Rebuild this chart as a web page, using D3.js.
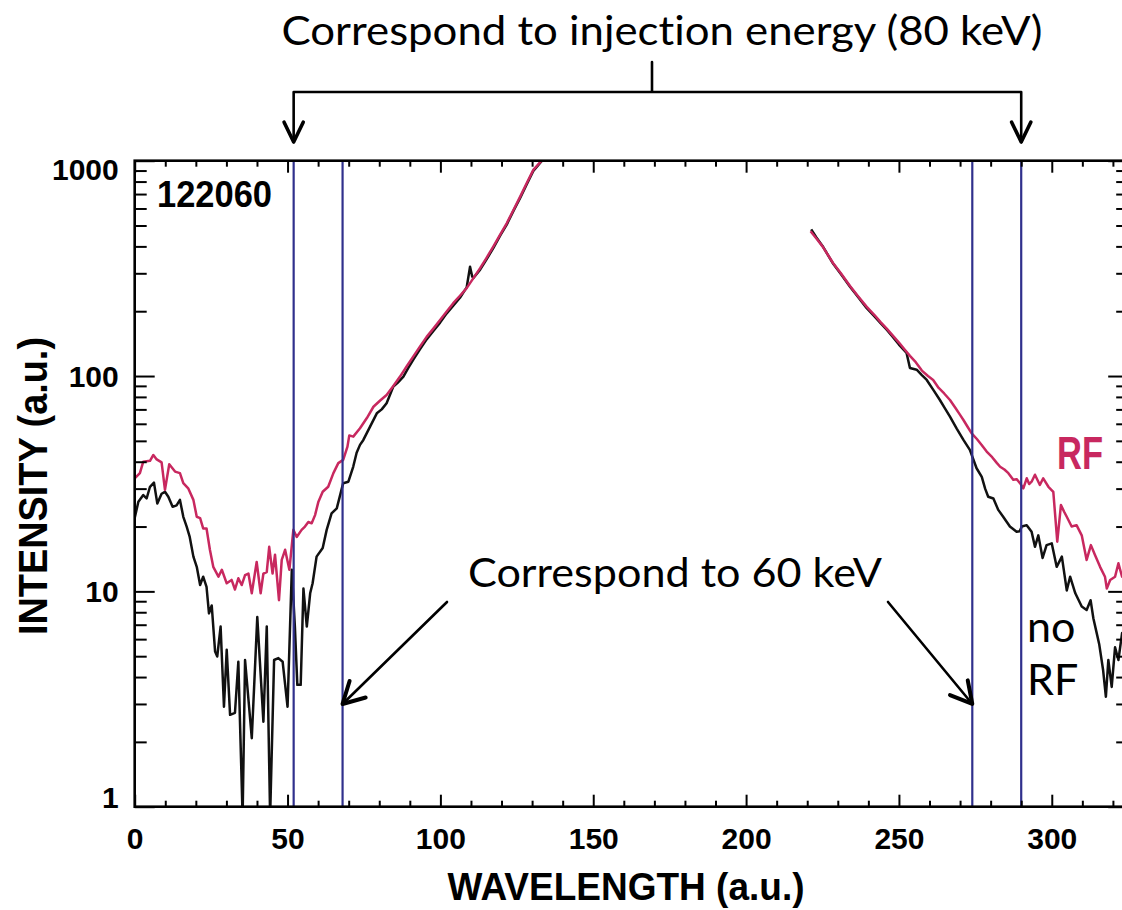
<!DOCTYPE html>
<html>
<head>
<meta charset="utf-8">
<script src="https://cdn.jsdelivr.net/npm/d3@7"></script>
<style>
  body { margin: 0; background: #fff; }
  text { font-family: "Liberation Sans", Arial, sans-serif; font-variant-ligatures: none; }
</style>
</head>
<body>
<svg id="chart"></svg>
<script>
// ---- data: [wavelength, intensity] ----
const rfLeft = [[0,33.5],[1.7,35.4],[2.8,40],[5,40.4],[6.1,43],[7.2,41],[8.8,39.7],[9.9,29.6],[11.3,38.9],[13.2,36],[14.8,35.4],[15.9,31.8],[17.5,30.1],[19.2,26.6],[20.3,22.2],[21.4,21.9],[22.4,19.6],[23.5,19.6],[24.6,15.6],[25.7,13],[27.4,11.7],[28.5,12.6],[30.1,10.9],[31.7,11.3],[32.8,10.2],[33.9,11.5],[35,10.7],[36.1,11.9],[37.2,12.1],[38.3,9.8],[39.9,13.7],[41.2,9.8],[42.1,12.1],[43.2,12.3],[44,16.1],[45.1,12.1],[45.9,14.8],[47.2,9.1],[48.1,14],[49.2,15.6],[50.6,12.6],[51.9,19.3],[53,17.9],[54.6,19.3],[55.7,20],[56.8,21],[57.9,20.7],[59,22.6],[60.1,26.1],[61.5,29],[63.3,30.6],[65,35.4],[66.6,39.4],[68.2,40.8],[69.6,47],[70.2,53],[71.5,52.3],[73.7,57.2],[76,64],[78.1,72],[80.3,77],[82.4,81.7],[84.6,90],[86.8,99.4],[89,111],[91.1,123],[93.3,137],[95.5,152],[97.7,166],[99.9,182],[102,199],[104.2,218],[106.4,236],[108.6,256],[110.8,285],[113,317],[115.2,356],[117.3,399],[119.5,452],[121.7,512],[123.9,590],[126.1,681],[128.3,790],[130.4,906],[133.1,1000],[134,1080]];
const noRfLeft = [[0,21.9],[1.2,26.1],[2.8,28],[3.9,27],[5,30.6],[6.3,32],[7.4,25.6],[8.8,28.4],[9.9,29],[11,27.5],[12.4,24.7],[13.7,25.1],[14.8,26.6],[15.9,22.2],[17,20],[18,17.9],[19.2,14.5],[20.3,13],[21.4,10.7],[22.4,11.7],[23.5,10.5],[24.3,7.9],[25.2,8.6],[26.3,5.25],[27,4.98],[28.1,6.86],[29.2,2.91],[30.1,5.35],[31.2,2.67],[32.8,2.73],[33.9,4.71],[35.3,0.9],[36.1,4.8],[38.3,2.08],[40.1,7.6],[42.1,2.48],[43.2,6.86],[44.3,0.9],[45.6,4.8],[47,4.9],[48.4,4.71],[50,2.91],[51.4,12.6],[52.4,6.86],[53.2,3.68],[54.3,3.68],[55.2,10.3],[56.3,6.86],[57.4,9.8],[58.2,10.9],[59.5,14.5],[61.5,15.9],[62.8,19.3],[64.4,23],[66.1,24.3],[68.2,31.8],[69.9,32.3],[71.5,38],[72.6,44],[73.7,47.9],[74.8,50.5],[77,58.2],[79.2,67.1],[80.8,70],[82.4,74.8],[84.6,89.3],[86,93],[87.9,99.4],[89.5,109],[91.1,119],[93.3,133],[95.5,148],[97.7,162],[99.9,177],[102,195],[104.2,212],[106.4,231],[108.6,258],[109.7,322],[110.4,290],[110.8,285],[113,312],[115.2,350],[117.3,393],[119.5,448],[121.7,505],[123.9,585],[126.1,672],[128.3,780],[130.4,896],[133.1,995],[134,1080]];
const rfRight = [[221.1,470],[223,435],[225,400],[228.5,334],[231,300],[234,262],[236.5,236],[239.4,210],[242,192],[244,178],[246,166],[248,154],[250,143],[252,132],[253.6,124],[255.5,116],[257.5,106],[259.5,100],[261.2,95.9],[263,88],[264.8,83],[266.7,77.4],[268.5,71],[270,66],[271.1,62.5],[272.5,58],[273.8,54.2],[275.5,51],[277,48],[278.7,44.6],[280.5,42],[282,39.5],[283.1,37.9],[284.5,36.8],[285.8,35.4],[287.4,33],[288.5,33.2],[289.6,31.8],[290.7,30.1],[291.8,33.5],[292.6,31.5],[293.4,32.3],[294.5,34.8],[296.1,31.2],[297.2,33.5],[298.9,30.6],[300.5,29],[301.8,17],[303,25.2],[304,23.5],[304.9,22.2],[306.5,20],[308.1,20.3],[309.8,18.2],[311.4,14],[312.8,16.4],[314.1,14.8],[315.8,13],[317.4,11.7],[318,10.3],[319.1,11.3],[320.7,11.7],[321.8,13.5],[323,11.7],[325,12.5]];
const noRfRight = [[221.3,480],[223,440],[225,402],[228.5,332],[231,298],[234,260],[236.5,234],[239.4,207],[242,189],[244,176],[246,164],[248,152],[250,140],[252.5,128],[253.6,109],[255.8,107],[257.5,101],[259.1,95.9],[261.3,86],[263.4,77.4],[265,71],[266.7,64.8],[268.9,57],[271.1,50.5],[273.2,45.4],[275.4,37.3],[277.1,34],[278.2,30],[279.2,27.5],[280.9,27],[282.5,23.9],[284.1,22.2],[286.3,20],[288.5,18.9],[289.5,19],[290.2,20],[291.8,20.3],[293.4,18.9],[294.5,16.1],[295.6,18.2],[297,14.3],[298.3,16.4],[300,16.7],[301.6,13],[303.3,14.5],[304.9,10.1],[306,11.7],[307.7,9.8],[309.8,8.5],[311.4,8.2],[312.7,9.1],[313.6,7.5],[314.7,6.4],[315.5,5.7],[316.8,4.3],[317.7,3.24],[318.5,4.8],[319.6,3.6],[320.7,5.5],[321.8,4.8],[323,6.4],[325,6.0]];

// marker wavelengths (80 keV and 60 keV)
const energy80 = [52, 290];
const energy60 = [68, 274];

const xMajor = [0, 50, 100, 150, 200, 250, 300];
const xMinor = d3.range(10, 330, 10).filter(v => v % 50 !== 0);
const yMajor = [1, 10, 100, 1000];
const yMinor = [1, 10, 100].flatMap(d => d3.range(2, 10).map(k => k * d));

const shotLabel = "122060";
const rfColor = "#c8285f";
const markerColor = "#30308c";

const width = 1122, height = 910;

const svg = d3.select("#chart")
    .attr("width", width)
    .attr("height", height)
    .style("display", "block");

svg.append("rect").attr("width", width).attr("height", height).attr("fill", "#fff");

const x = d3.scaleLinear().domain([0, 325]).range([134.7, 1128.2]);
const y = d3.scaleLog().domain([1, 1000]).range([806.7, 160.7]);

const plotLeft = x.range()[0], plotRight = x.range()[1];
const plotTop = y.range()[1], plotBottom = y.range()[0];

// clip for curves
svg.append("defs").append("clipPath").attr("id", "plot")
    .append("rect")
    .attr("x", plotLeft).attr("y", plotTop)
    .attr("width", plotRight - plotLeft).attr("height", plotBottom - plotTop);

const line = d3.line()
    .x(d => x(d[0]))
    .y(d => y(d[1]));

const curves = svg.append("g").attr("clip-path", "url(#plot)");

// no RF first, RF drawn on top
[noRfLeft, noRfRight].forEach(s => {
    curves.append("path").datum(s)
        .attr("d", line)
        .attr("fill", "none")
        .attr("stroke", "#111")
        .attr("stroke-width", 2.5)
        .attr("stroke-linejoin", "round");
});
[rfLeft, rfRight].forEach(s => {
    curves.append("path").datum(s)
        .attr("d", line)
        .attr("fill", "none")
        .attr("stroke", rfColor)
        .attr("stroke-width", 2.5)
        .attr("stroke-linejoin", "round");
});

// vertical marker lines
svg.append("g").selectAll("line")
    .data(energy80.concat(energy60))
    .join("line")
    .attr("x1", d => x(d)).attr("x2", d => x(d))
    .attr("y1", plotTop).attr("y2", plotBottom)
    .attr("stroke", markerColor)
    .attr("stroke-width", 2.2);

// ---- axes (ticks point inward) ----
function styleAxis(g) {
    g.select(".domain").remove();
    g.selectAll(".tick line").attr("stroke", "#000").attr("stroke-width", 2);
    g.selectAll(".tick text")
        .attr("fill", "#000")
        .style("font-family", "'Liberation Sans', Arial, sans-serif")
        .style("font-weight", "bold")
        .style("font-size", "30px");
}

svg.append("g").attr("transform", `translate(0,${plotBottom})`)
    .call(d3.axisBottom(x).tickValues(xMajor).tickSize(-12).tickPadding(21).tickFormat(d3.format("d")))
    .call(styleAxis);
svg.append("g").attr("transform", `translate(0,${plotBottom})`)
    .call(d3.axisBottom(x).tickValues(xMinor).tickSize(-6).tickFormat(""))
    .call(styleAxis);
svg.append("g").attr("transform", `translate(0,${plotTop})`)
    .call(d3.axisTop(x).tickValues(xMajor).tickSize(-12).tickFormat(""))
    .call(styleAxis);
svg.append("g").attr("transform", `translate(0,${plotTop})`)
    .call(d3.axisTop(x).tickValues(xMinor).tickSize(-6).tickFormat(""))
    .call(styleAxis);

const yAxisG = svg.append("g").attr("transform", `translate(${plotLeft},0)`)
    .call(d3.axisLeft(y).tickValues(yMajor).tickSize(-20).tickPadding(16).tickFormat(d3.format("d")))
    .call(styleAxis);
// keep end labels inside the frame
yAxisG.selectAll(".tick text")
    .attr("dy", d => d === 1000 ? "0.62em" : d === 1 ? "0.02em" : "0.34em");

svg.append("g").attr("transform", `translate(${plotLeft},0)`)
    .call(d3.axisLeft(y).tickValues(yMinor).tickSize(-12).tickFormat(""))
    .call(styleAxis);
svg.append("g").attr("transform", `translate(${plotRight},0)`)
    .call(d3.axisRight(y).tickValues(yMajor).tickSize(-20).tickFormat(""))
    .call(styleAxis);
svg.append("g").attr("transform", `translate(${plotRight},0)`)
    .call(d3.axisRight(y).tickValues(yMinor).tickSize(-12).tickFormat(""))
    .call(styleAxis);

// frame
svg.append("rect")
    .attr("x", plotLeft).attr("y", plotTop)
    .attr("width", plotRight - plotLeft).attr("height", plotBottom - plotTop)
    .attr("fill", "none").attr("stroke", "#000").attr("stroke-width", 2.6);

// axis titles
svg.append("text")
    .attr("x", 626).attr("y", 900)
    .attr("text-anchor", "middle")
    .attr("textLength", 357).attr("lengthAdjust", "spacingAndGlyphs")
    .style("font-weight", "bold").style("font-size", "38px")
    .text("WAVELENGTH (a.u.)");

svg.append("text")
    .attr("transform", "translate(47,486) rotate(-90)")
    .attr("text-anchor", "middle")
    .attr("textLength", 298).attr("lengthAdjust", "spacingAndGlyphs")
    .style("font-weight", "bold").style("font-size", "40px")
    .text("INTENSITY (a.u.)");

// shot number
svg.append("text")
    .attr("x", 157).attr("y", 207)
    .attr("textLength", 115).attr("lengthAdjust", "spacingAndGlyphs")
    .style("font-weight", "bold").style("font-size", "37px")
    .text(shotLabel);

// series labels
svg.append("text")
    .attr("x", 1057).attr("y", 469)
    .attr("textLength", 46).attr("lengthAdjust", "spacingAndGlyphs")
    .attr("fill", rfColor)
    .style("font-weight", "bold").style("font-size", "46px")
    .text("RF");

const noRf = svg.append("text")
    .style("font-family", "Lato, 'Open Sans', sans-serif")
    .style("font-size", "43px")
    .attr("fill", "#000");
noRf.append("tspan").attr("x", 1027).attr("y", 642).text("no");
noRf.append("tspan").attr("x", 1027).attr("y", 695).text("RF");

// ---- annotations ----
const ann = svg.append("g")
    .attr("stroke", "#000").attr("fill", "none")
    .attr("stroke-linecap", "round").attr("stroke-linejoin", "round");

function arrowHead(tx, ty, fx, fy, len, ang) {
    const a = Math.atan2(fy - ty, fx - tx);
    const p1 = [tx + len * Math.cos(a + ang), ty + len * Math.sin(a + ang)];
    const p2 = [tx + len * Math.cos(a - ang), ty + len * Math.sin(a - ang)];
    return `M${p1[0]},${p1[1]}L${tx},${ty}L${p2[0]},${p2[1]}`;
}

// bracket for 80 keV
const bracketY = 92, tipTop = 142;
ann.append("path")
    .attr("d", `M652,62V${bracketY}M${x(energy80[0])},${bracketY}H${x(energy80[1])}` +
        energy80.map(e => `M${x(e)},${bracketY}V${tipTop}`).join(""))
    .attr("stroke-width", 2.6);
energy80.forEach(e => {
    ann.append("path")
        .attr("d", arrowHead(x(e), tipTop, x(e), bracketY, 22, 0.45))
        .attr("stroke-width", 3.6);
});

svg.append("text")
    .attr("x", 662).attr("y", 45)
    .attr("text-anchor", "middle")
    .attr("textLength", 761).attr("lengthAdjust", "spacingAndGlyphs")
    .style("font-family", "Lato, 'Open Sans', sans-serif")
    .style("font-size", "41px")
    .text("Correspond to injection energy (80 keV)");

// arrows for 60 keV
const tipY = y(3);
const starts = [[447, 602], [888, 602]];
energy60.forEach((e, i) => {
    const [sx, sy] = starts[i];
    ann.append("path")
        .attr("d", `M${sx},${sy}L${x(e)},${tipY}`)
        .attr("stroke-width", 2.6);
    ann.append("path")
        .attr("d", arrowHead(x(e), tipY, sx, sy, 24, 0.5))
        .attr("stroke-width", 4);
});

svg.append("text")
    .attr("x", 675).attr("y", 587)
    .attr("text-anchor", "middle")
    .attr("textLength", 414).attr("lengthAdjust", "spacingAndGlyphs")
    .style("font-family", "Lato, 'Open Sans', sans-serif")
    .style("font-size", "41px")
    .text("Correspond to 60 keV");
</script>
</body>
</html>
